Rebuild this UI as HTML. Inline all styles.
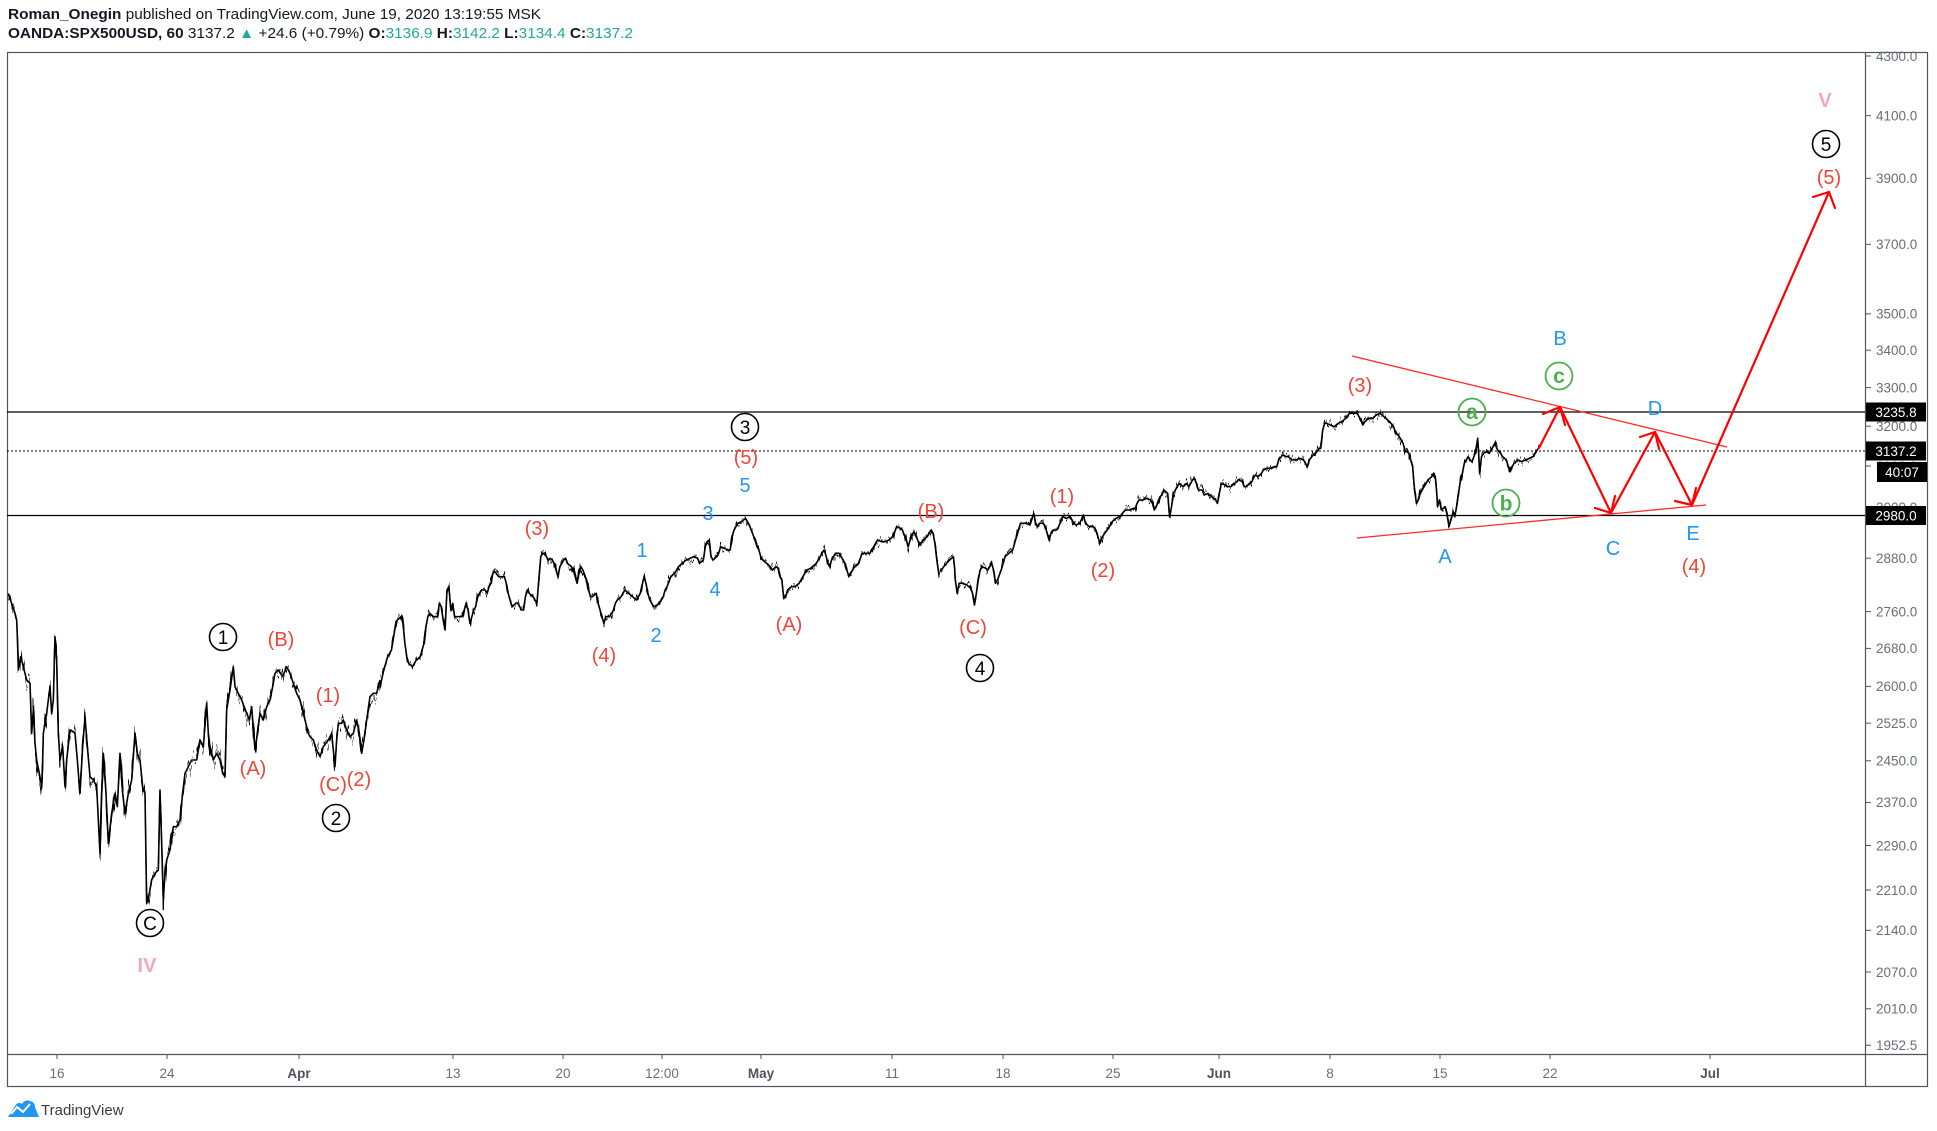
<!DOCTYPE html>
<html><head><meta charset="utf-8"><style>
html,body{margin:0;padding:0;background:#fff;}
svg{display:block;}
text{font-family:"Liberation Sans",Arial,sans-serif;}
</style></head><body>
<svg width="1937" height="1131" viewBox="0 0 1937 1131" xmlns="http://www.w3.org/2000/svg" xmlns:xlink="http://www.w3.org/1999/xlink">
<defs>
<filter id="jitA" filterUnits="userSpaceOnUse" x="0" y="0" width="1937" height="1131" color-interpolation-filters="sRGB">
 <feTurbulence type="fractalNoise" baseFrequency="0.5 0.015" numOctaves="2" seed="7" result="n"/>
 <feColorMatrix in="n" type="matrix" values="0 0 0 0 0.5  0 1 0 0 0  0 0 0 0 0  0 0 0 0 1" result="m"/>
 <feDisplacementMap in="SourceGraphic" in2="m" scale="40" xChannelSelector="R" yChannelSelector="G"/>
</filter>
<filter id="jitB" filterUnits="userSpaceOnUse" x="0" y="0" width="1937" height="1131" color-interpolation-filters="sRGB">
 <feTurbulence type="fractalNoise" baseFrequency="0.5 0.015" numOctaves="2" seed="11" result="n"/>
 <feColorMatrix in="n" type="matrix" values="0 0 0 0 0.5  0 1 0 0 0  0 0 0 0 0  0 0 0 0 1" result="m"/>
 <feDisplacementMap in="SourceGraphic" in2="m" scale="18" xChannelSelector="R" yChannelSelector="G"/>
</filter>
</defs>
<rect width="1937" height="1131" fill="#fff"/>
<!-- header -->
<text x="8" y="19" font-size="15" fill="#131722" textLength="533" lengthAdjust="spacingAndGlyphs"><tspan font-weight="bold">Roman_Onegin</tspan> published on TradingView.com, June 19, 2020 13:19:55 MSK</text>
<text x="8" y="38" font-size="15" fill="#131722" textLength="625" lengthAdjust="spacingAndGlyphs"><tspan font-weight="bold">OANDA:SPX500USD, 60</tspan>  3137.2 <tspan fill="#26a69a">▲</tspan> +24.6 (+0.79%) <tspan font-weight="bold">O:</tspan><tspan fill="#26a69a">3136.9</tspan> <tspan font-weight="bold">H:</tspan><tspan fill="#26a69a">3142.2</tspan> <tspan font-weight="bold">L:</tspan><tspan fill="#26a69a">3134.4</tspan> <tspan font-weight="bold">C:</tspan><tspan fill="#26a69a">3137.2</tspan></text>

<!-- frame -->
<rect x="7.5" y="52.5" width="1920" height="1034" fill="none" stroke="#50535e" stroke-width="1.2"/>
<line x1="1865.5" y1="52" x2="1865.5" y2="1087" stroke="#50535e" stroke-width="1.2"/>
<line x1="7" y1="1054.5" x2="1928" y2="1054.5" stroke="#50535e" stroke-width="1.2"/>

<!-- price axis ticks & labels -->
<g stroke="#50535e" stroke-width="1">
<line x1="1866" y1="56" x2="1871" y2="56"/><line x1="1866" y1="115.7" x2="1871" y2="115.7"/><line x1="1866" y1="178.3" x2="1871" y2="178.3"/><line x1="1866" y1="244.3" x2="1871" y2="244.3"/><line x1="1866" y1="313.9" x2="1871" y2="313.9"/><line x1="1866" y1="350.2" x2="1871" y2="350.2"/><line x1="1866" y1="387.6" x2="1871" y2="387.6"/><line x1="1866" y1="426.2" x2="1871" y2="426.2"/><line x1="1866" y1="466" x2="1871" y2="466"/><line x1="1866" y1="507" x2="1871" y2="507"/><line x1="1866" y1="558.2" x2="1871" y2="558.2"/><line x1="1866" y1="611.6" x2="1871" y2="611.6"/><line x1="1866" y1="648.4" x2="1871" y2="648.4"/><line x1="1866" y1="686.4" x2="1871" y2="686.4"/><line x1="1866" y1="723.1" x2="1871" y2="723.1"/><line x1="1866" y1="760.8" x2="1871" y2="760.8"/><line x1="1866" y1="802.4" x2="1871" y2="802.4"/><line x1="1866" y1="845.5" x2="1871" y2="845.5"/><line x1="1866" y1="890" x2="1871" y2="890"/><line x1="1866" y1="930.3" x2="1871" y2="930.3"/><line x1="1866" y1="972" x2="1871" y2="972"/><line x1="1866" y1="1008.8" x2="1871" y2="1008.8"/><line x1="1866" y1="1045.2" x2="1871" y2="1045.2"/>
</g>
<g font-size="13.5" fill="#6a6d78">
<text x="1876" y="60.8">4300.0</text><text x="1876" y="120.5">4100.0</text><text x="1876" y="183.1">3900.0</text><text x="1876" y="249.1">3700.0</text><text x="1876" y="318.7">3500.0</text><text x="1876" y="355">3400.0</text><text x="1876" y="392.4">3300.0</text><text x="1876" y="431">3200.0</text><text x="1876" y="470.8">3100.0</text><text x="1876" y="511.8">3000.0</text><text x="1876" y="563">2880.0</text><text x="1876" y="616.4">2760.0</text><text x="1876" y="653.2">2680.0</text><text x="1876" y="691.2">2600.0</text><text x="1876" y="727.9">2525.0</text><text x="1876" y="765.6">2450.0</text><text x="1876" y="807.2">2370.0</text><text x="1876" y="850.3">2290.0</text><text x="1876" y="894.8">2210.0</text><text x="1876" y="935.1">2140.0</text><text x="1876" y="976.8">2070.0</text><text x="1876" y="1013.6">2010.0</text><text x="1876" y="1050">1952.5</text>
</g>

<!-- time axis -->
<g stroke="#50535e" stroke-width="1">
<line x1="57" y1="1055" x2="57" y2="1059"/><line x1="167" y1="1055" x2="167" y2="1059"/><line x1="299" y1="1055" x2="299" y2="1059"/><line x1="453" y1="1055" x2="453" y2="1059"/><line x1="563" y1="1055" x2="563" y2="1059"/><line x1="662" y1="1055" x2="662" y2="1059"/><line x1="761" y1="1055" x2="761" y2="1059"/><line x1="892" y1="1055" x2="892" y2="1059"/><line x1="1003" y1="1055" x2="1003" y2="1059"/><line x1="1113" y1="1055" x2="1113" y2="1059"/><line x1="1219" y1="1055" x2="1219" y2="1059"/><line x1="1330" y1="1055" x2="1330" y2="1059"/><line x1="1440" y1="1055" x2="1440" y2="1059"/><line x1="1550" y1="1055" x2="1550" y2="1059"/><line x1="1710" y1="1055" x2="1710" y2="1059"/>
</g>
<g font-size="13.5" fill="#6a6d78" text-anchor="middle">
<text x="57" y="1078">16</text><text x="167" y="1078">24</text><text x="299" y="1078" font-weight="bold" fill="#50535e">Apr</text><text x="453" y="1078">13</text><text x="563" y="1078">20</text><text x="662" y="1078">12:00</text><text x="761" y="1078" font-weight="bold" fill="#50535e">May</text><text x="892" y="1078">11</text><text x="1003" y="1078">18</text><text x="1113" y="1078">25</text><text x="1219" y="1078" font-weight="bold" fill="#50535e">Jun</text><text x="1330" y="1078">8</text><text x="1440" y="1078">15</text><text x="1550" y="1078">22</text><text x="1710" y="1078" font-weight="bold" fill="#50535e">Jul</text>
</g>

<!-- horizontal lines -->
<line x1="7" y1="412" x2="1865" y2="412" stroke="#000" stroke-width="1.2"/>
<line x1="7" y1="451" x2="1865" y2="451" stroke="#000" stroke-width="1" stroke-dasharray="2,2"/>
<line x1="7" y1="515.5" x2="1865" y2="515.5" stroke="#000" stroke-width="1.2"/>

<!-- axis label boxes -->
<rect x="1866" y="402.5" width="60" height="19" fill="#000"/>
<text x="1896" y="417" font-size="13.5" fill="#fff" text-anchor="middle">3235.8</text>
<rect x="1866" y="441.5" width="60" height="19" fill="#000"/>
<text x="1896" y="456" font-size="13.5" fill="#fff" text-anchor="middle">3137.2</text>
<rect x="1877" y="462" width="50" height="20" fill="#000"/>
<text x="1902" y="477" font-size="13.5" fill="#fff" text-anchor="middle">40:07</text>
<rect x="1866" y="506" width="60" height="19" fill="#000"/>
<text x="1896" y="520.5" font-size="13.5" fill="#fff" text-anchor="middle">2980.0</text>

<!-- price -->
<g id="raw" fill="none" stroke="#000" stroke-width="1.6" stroke-linejoin="round">
<polyline id="p4" vector-effect="non-scaling-stroke" transform="translate(0,560) scale(0.33333,0.33333)" points="25,100 35,130 45,160 50,180 52,230 55,330 62,290 70,320 80,360 90,370 95,520 100,450 105,550 110,600 118,640 125,680 128,600 130,520 140,460 150,380 155,460 160,420 165,230 170,300 175,520 180,600 188,560 195,680 200,600 210,510 220,515 225,520 232,600 240,700 248,560 255,470 262,560 270,650 280,660 290,680 300,880 305,700 310,580 318,700 325,850 335,760 345,700 352,740 360,580 368,700 375,760 385,700 395,660 405,520 412,580 420,600 428,680 435,700 440,1030 448,1000 455,960 465,940 475,930 480,690 485,850 490,1020 495,940 500,900 510,870 520,800 530,800 540,780 548,700 555,640 565,620 575,600 590,600 600,540 610,560 620,430 625,520 630,560 640,600 650,580 660,600 668,640 675,650 680,450 690,390 700,320 705,380 715,400 725,420 740,460 748,480 755,440 765,570 772,520 780,460 790,480 800,440 810,420 818,380 825,340 835,330 848,350 860,320 870,340 880,370 890,400 900,420 910,460 915,480 925,520 930,530 940,540 950,570 960,590 970,560 985,540 995,520 1005,620 1010,540 1015,490 1025,490 1030,480 1040,510 1050,530 1060,520 1070,480 1078,520 1085,580 1092,540 1100,480 1110,410 1120,400 1130,400 1140,360"/>
<polyline id="p5" vector-effect="non-scaling-stroke" transform="translate(380,470) scale(0.38270,0.33333)" points="0,650 10,600 20,560 30,540 40,470 45,450 55,440 60,460 65,520 70,560 75,580 85,590 95,570 105,560 115,520 120,470 125,440 130,430 140,440 150,440 155,400 160,410 165,450 170,480 175,360 180,350 185,420 190,400 195,440 205,440 215,440 225,400 230,420 235,460 245,420 250,410 255,380 260,370 265,360 275,360 280,370 285,350 290,340 295,310 300,305 310,320 315,320 325,320 330,340 335,370 340,390 345,410 355,400 360,400 370,420 375,420 380,380 385,360 390,370 400,380 405,390 410,400 415,330 420,260 425,250 430,250 440,270 445,265 450,270 455,280 460,300 465,320 470,290 480,270 485,265 490,280 500,290 505,300 510,320 515,340 520,310 525,290 530,300 540,330 545,360 550,380 555,380 565,370 570,400 575,420 580,440 585,460 590,440 600,440 610,420 615,400 620,390 630,380 640,360 650,370 660,380 670,390 680,370 690,320 695,340 700,370 705,390 710,400 715,410 720,410 730,400 740,380 745,360 750,350 760,320 770,310 780,290 790,280 800,270 810,265 820,260 830,265 835,280 845,270 850,230 855,215 860,210 865,260 870,270 880,260 885,250 890,230 900,235 910,240 915,240 920,200 925,180 935,160 945,155 955,145 960,155 965,165 970,180 980,210 985,230 990,240 995,260 1000,270 1010,280 1020,290 1025,300 1035,290 1040,295 1045,320 1050,330 1055,385 1060,380 1065,360 1075,350 1085,350 1095,340 1100,330 1105,320 1115,300 1125,295 1130,290 1140,280 1145,270 1155,250 1160,240 1165,255 1170,280 1175,290 1180,270 1190,250 1200,250 1205,260 1215,280 1225,320 1230,310 1240,290 1250,280 1260,250 1270,250 1280,250 1290,230 1300,210 1310,215 1320,215 1330,210 1340,200 1350,170 1360,175 1365,180 1375,210 1380,230 1388,200 1395,185 1405,210 1410,225 1420,210 1430,200 1440,180 1445,190 1450,220 1455,270 1460,310 1463,312"/>
<polyline id="p6" vector-effect="non-scaling-stroke" transform="translate(940,380) scale(0.38270,0.33333)" points="0,575 10,560 25,540 35,530 38,560 40,600 45,640 50,610 60,610 70,615 80,625 85,640 90,675 95,640 100,600 105,570 110,560 120,565 125,570 135,550 140,570 145,610 150,600 160,570 165,550 170,530 180,520 190,510 195,490 200,470 205,450 210,430 215,430 225,430 235,435 245,400 250,430 255,440 260,430 270,430 275,440 285,480 290,460 295,450 305,450 310,440 320,410 330,415 340,410 350,430 355,435 365,430 375,405 380,430 390,440 400,440 405,445 410,460 418,490 425,470 430,460 440,445 450,425 460,415 470,410 480,395 485,390 495,390 505,385 510,385 515,370 520,360 530,360 540,355 550,360 555,370 560,390 565,380 575,350 580,345 585,330 595,340 600,410 605,380 610,340 620,320 625,310 635,320 645,310 650,320 660,300 665,295 670,310 675,330 685,330 690,345 700,340 710,350 720,360 725,370 730,340 735,310 745,315 750,320 760,320 770,310 780,300 790,305 795,320 800,320 810,310 815,305 820,290 825,285 830,290 840,280 845,270 855,265 865,265 875,260 880,260 885,240 895,225 905,230 910,230 920,240 930,240 940,235 950,240 955,250 960,260 965,240 975,225 985,215 990,205 995,205 1000,150 1005,130 1010,130 1020,135 1030,140 1040,130 1050,125 1060,115 1070,100 1080,100 1090,100 1095,110 1105,135 1110,125 1120,115 1130,115 1140,105 1150,100 1160,110 1170,120 1175,125 1185,140 1190,155 1200,170 1210,190 1215,210 1220,215 1225,220 1230,240 1235,260 1240,330 1245,370 1250,360 1255,340 1260,330 1270,310 1275,300 1285,290 1290,280 1295,300 1298,340 1300,380 1305,360 1310,390 1320,380 1325,400 1330,440 1335,420 1340,400 1345,410 1350,380 1355,340 1360,300 1365,280 1370,250 1375,240 1380,230 1385,240 1390,245 1395,230 1400,210 1405,175 1408,230 1410,280 1415,230 1420,220 1428,215 1435,220 1440,210 1445,200 1450,190 1455,205 1460,215 1465,220 1470,230 1475,235 1480,240 1485,260 1490,275 1495,260 1500,250 1510,240 1520,245 1530,240 1540,235 1550,230 1555,220 1560,210 1568,200"/>
</g>
<use xlink:href="#p4" href="#p4" fill="none" stroke="#000" stroke-width="1.3" filter="url(#jitA)"/>
<use xlink:href="#p5" href="#p5" fill="none" stroke="#000" stroke-width="1.3" filter="url(#jitB)"/>
<use xlink:href="#p6" href="#p6" fill="none" stroke="#000" stroke-width="1.3" filter="url(#jitB)"/>

<!-- triangle lines -->
<line x1="1352" y1="356" x2="1727" y2="447" stroke="#ff2a2a" stroke-width="1.3"/>
<line x1="1357" y1="538" x2="1706" y2="505" stroke="#ff2a2a" stroke-width="1.3"/>

<!-- arrows -->
<g fill="none" stroke="#ff0000" stroke-width="2.2" stroke-linecap="round" stroke-linejoin="round">
<polyline points="1539,448 1560,407 1611,513 1655,432 1692,505 1829,192"/>
<polyline points="1543,414 1560,407 1565,425"/>
<polyline points="1595,508 1611,513 1615,496"/>
<polyline points="1640,437 1655,432 1659,449"/>
<polyline points="1675,501 1692,505 1696,488"/>
<polyline points="1813,197 1829,192 1835,208"/>
</g>

<!-- labels -->
<g font-size="20" text-anchor="middle">
<g fill="#f0443a">
<text x="281" y="646">(B)</text>
<text x="328" y="702">(1)</text>
<text x="253" y="775">(A)</text>
<text x="333" y="791">(C)</text>
<text x="359" y="786">(2)</text>
<text x="537" y="535">(3)</text>
<text x="604" y="662">(4)</text>
<text x="746" y="464">(5)</text>
<text x="789" y="631">(A)</text>
<text x="931" y="518">(B)</text>
<text x="973" y="634">(C)</text>
<text x="1062" y="503">(1)</text>
<text x="1103" y="577">(2)</text>
<text x="1360" y="392">(3)</text>
<text x="1694" y="573">(4)</text>
<text x="1829" y="184">(5)</text>
</g>
<g fill="#2196f3">
<text x="745" y="492">5</text>
<text x="708" y="520">3</text>
<text x="642" y="557">1</text>
<text x="715" y="596">4</text>
<text x="656" y="642">2</text>
<text x="1560" y="345">B</text>
<text x="1655" y="415">D</text>
<text x="1445" y="563">A</text>
<text x="1613" y="555">C</text>
<text x="1693" y="540">E</text>
</g>
<g fill="#f4a6c0" font-weight="bold">
<text x="147" y="972">IV</text>
<text x="1825" y="107">V</text>
</g>
</g>

<!-- black circled -->
<g fill="none" stroke="#000" stroke-width="1.6">
<circle cx="223" cy="637" r="13.5"/>
<circle cx="336" cy="818" r="13.5"/>
<circle cx="150" cy="923" r="13.5"/>
<circle cx="745" cy="427" r="13.5"/>
<circle cx="980" cy="668" r="13.5"/>
<circle cx="1826" cy="144" r="13.5"/>
</g>
<g font-size="19" text-anchor="middle" fill="#000">
<text x="223" y="644">1</text>
<text x="336" y="825">2</text>
<text x="150" y="930">C</text>
<text x="745" y="434">3</text>
<text x="980" y="675">4</text>
<text x="1826" y="151">5</text>
</g>

<!-- green circled -->
<g fill="none" stroke="#4caf50" stroke-width="1.8">
<circle cx="1472" cy="412" r="13.5"/>
<circle cx="1506" cy="503" r="13.5"/>
<circle cx="1559" cy="376" r="13.5"/>
</g>
<g font-size="21" font-weight="bold" text-anchor="middle" fill="#4caf50">
<text x="1472" y="419">a</text>
<text x="1506" y="510.5">b</text>
<text x="1559" y="383">c</text>
</g>

<!-- footer logo -->
<path d="M8,1117 L15,1106 Q18,1101 22,1104 Q25,1099 30,1101 Q35,1102 35,1107 L39,1117 Z" fill="#2196f3"/>
<polyline points="11,1114 17,1107 23,1112 30,1104" fill="none" stroke="#fff" stroke-width="2"/>
<text x="41" y="1115" font-size="15" fill="#3c3c3c">TradingView</text>
</svg>
</body></html>
